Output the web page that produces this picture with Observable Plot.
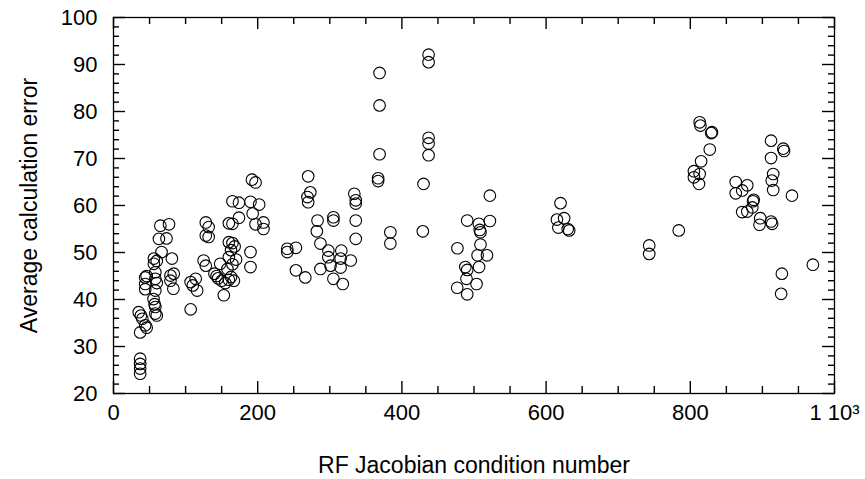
<!DOCTYPE html>
<html>
<head>
<meta charset="utf-8">
<script src="https://cdn.jsdelivr.net/npm/d3@7"></script>
<script src="https://cdn.jsdelivr.net/npm/@observablehq/plot@0.6"></script>
</head>
<body style="margin:0">
<div id="chart"></div>
<script>
// RF Jacobian condition number (x) and average calculation error (y)
const condNumber = [
  37,37,37,37, 37,38,40,44,46,35, 44,44,44,46, 55.5,58,58,60,57, 58,58,58,56,56,60,
  66.6,63,73.5,65,77, 81,79,79,83.6,83,60,
  107,107,114,116,110, 125,128,128,132,128,132,
  153,140,145,150,155,160,163,167,148,158,165,160,163,165,160,160,143,170,168,
  165,174,190,202, 174,193,165,197,208,208, 190,190,192,197,
  241,241,253,253,266, 270,273,269,270, 283,282,287, 305,305,
  334,336,336,336,336, 298,316,315,298, 287,301,329,315,305,318,
  369,369,369,367,367, 384,384,
  437,437,437,437,437, 430,429,
  522,490.6,506.7,508,509,522,509,477,505,518,507,488,490.6,489.6,503.5,476.7,490.6,
  615,617,620,625,630,632, 743,743,784,
  813,814,830,829,827,815,805,813,805,812,
  912,929,930,912,915,913,915,
  863,879,863,872,941,888, 887,886,872,879,897,896,912,913.5,
  970,927,926
];
const avgError = [
  24.2,25.3,26.3,27.4, 33.0,36.6,35.9,34.5,34.0,37.3, 42.2,43.3,44.7,45.0, 40.1,38.4,37.0,36.6,39.0, 41.9,44.4,45.8,47.6,48.7,43.5,
  50.1,52.9,53.0,55.7,56.0, 48.7,45.1,44.0,45.5,42.3,48.2,
  37.9,43.7,44.4,41.9,43.0, 48.3,47.2,56.4,55.4,53.6,53.3,
  40.9,45.5,44.5,44.0,43.5,44.2,44.8,44.0,47.6,46.5,47.5,49.0,50.5,52.0,52.2,56.2,45.0,48.5,51.3,
  60.9,60.6,60.8,60.2, 57.4,58.3,56.1,56.0,56.4,55.0, 50.1,46.9,65.5,64.9,
  50.8,50.1,51.0,46.2,44.7, 66.2,62.8,61.8,60.7, 56.8,54.5,51.9, 57.5,56.8,
  62.5,61.1,60.4,56.8,52.9, 50.4,50.4,48.7,49.0, 46.5,47.2,48.3,46.8,44.4,43.3,
  88.2,81.3,70.9,65.8,65.2, 54.3,51.9,
  92.1,90.5,74.4,73.2,70.7, 64.6,54.5,
  62.1,56.8,56.1,54.8,54.3,56.7,51.7,50.9,49.4,49.4,46.9,46.9,46.3,44.4,43.3,42.5,41.1,
  57.0,55.3,60.5,57.3,55.0,54.7, 51.5,49.7,54.7,
  77.7,77.0,75.6,75.4,71.9,69.4,67.3,66.7,66.0,64.6,
  73.8,72.1,71.6,70.1,66.7,65.3,63.3,
  65.0,64.3,62.6,63.2,62.1,61.2, 60.9,59.6,58.6,58.7,57.3,55.9,56.6,56.1,
  47.4,45.5,41.2
];

const xMajorTicks = [0, 200, 400, 600, 800, 1000];
const xMinorTicks = [50, 100, 150, 250, 300, 350, 450, 500, 550, 650, 700, 750, 850, 900, 950];
const yMajorTicks = [20, 30, 40, 50, 60, 70, 80, 90, 100];
const yMinorTicks = [22,24,26,28, 32,34,36,38, 42,44,46,48, 52,54,56,58, 62,64,66,68, 72,74,76,78, 82,84,86,88, 92,94,96,98];

const xTitle = "RF Jacobian condition number";
const yTitle = "Average calculation error";

const points = condNumber.map((x, i) => ({x, y: avgError[i]}));
const fmtX = d => d === 1000 ? "1 10³" : String(d);
const blank = () => "";
const font = "'Liberation Sans', Arial, Helvetica, sans-serif";

// frame geometry, used to turn pixel tick lengths into data units
const W = 865, H = 479, mL = 113, mR = 31, mT = 17, mB = 86;
const xDom = [0, 1000], yDom = [20, 100];
const pxX = p => p * (xDom[1] - xDom[0]) / (W - mL - mR);
const pxY = p => p * (yDom[1] - yDom[0]) / (H - mT - mB);

// tick segments as separate records (copies, not the arrays the axes use)
const segX = (t, y0, y1) => t.map(v => ({x: v, ya: y0, yb: y1}));
const segY = (t, x0, x1) => t.map(v => ({y: v, xa: x0, xb: x1}));
const tickRowsX = [
  ...segX(xMajorTicks, yDom[0], yDom[0] + pxY(12)), ...segX(xMinorTicks, yDom[0], yDom[0] + pxY(7)),
  ...segX(xMajorTicks, yDom[1], yDom[1] - pxY(12)), ...segX(xMinorTicks, yDom[1], yDom[1] - pxY(7))
];
const tickRowsY = [
  ...segY(yMajorTicks, xDom[0], xDom[0] + pxX(12)), ...segY(yMinorTicks, xDom[0], xDom[0] + pxX(6)),
  ...segY(yMajorTicks, xDom[1], xDom[1] - pxX(12)), ...segY(yMinorTicks, xDom[1], xDom[1] - pxX(6))
];

const chart = Plot.plot({
  width: W,
  height: H,
  marginLeft: mL,
  marginRight: mR,
  marginTop: mT,
  marginBottom: mB,
  x: {domain: xDom},
  y: {domain: yDom},
  marks: [
    Plot.frame({stroke: "black", strokeWidth: 1.3}),
    // tick labels and titles
    Plot.axisX({anchor: "bottom", ticks: xMajorTicks.slice(), tickSize: 0, tickPadding: 11, tickFormat: fmtX,
                fontSize: 22, fontFamily: font, fill: "black", label: null}),
    Plot.axisX({anchor: "bottom", ticks: xMajorTicks.slice(), tickSize: 0, tickFormat: blank, label: xTitle,
                labelAnchor: "center", labelArrow: "none", labelOffset: 79, fontSize: 23, fontFamily: font, fill: "black"}),
    Plot.axisY({anchor: "left", ticks: yMajorTicks.slice(), tickSize: 0, tickPadding: 16, fontSize: 22, fontFamily: font,
                fill: "black", label: null}),
    Plot.axisY({anchor: "left", ticks: yMajorTicks.slice(), tickSize: 0, tickFormat: blank, label: yTitle,
                labelAnchor: "center", labelArrow: "none", labelOffset: 93, fontSize: 23, fontFamily: font, fill: "black"}),
    // data
    Plot.dot(points, {x: "x", y: "y", r: 5.8, stroke: "black", strokeWidth: 1.1, fill: "none"}),
    // inward ticks on all four sides
    Plot.ruleX(tickRowsX, {x: "x", y1: "ya", y2: "yb", stroke: "black", strokeWidth: 1.4}),
    Plot.ruleY(tickRowsY, {y: "y", x1: "xa", x2: "xb", stroke: "black", strokeWidth: 1.4})
  ]
});

document.getElementById("chart").appendChild(chart);
</script>
</body>
</html>
